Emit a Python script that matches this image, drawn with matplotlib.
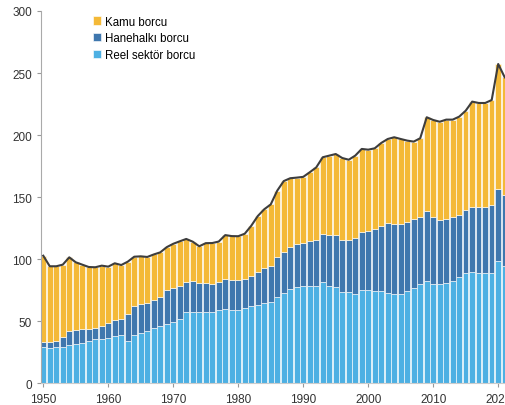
import numpy as np
import matplotlib
matplotlib.use("Agg")
import matplotlib.pyplot as plt

plt.rcParams['font.family'] = ['Liberation Sans', 'DejaVu Sans']

years = list(range(1950, 2022))

# reel sektor borcu (alt katman)
reel = [29.6, 28.8, 29.6, 29.6, 31.0, 31.6, 32.6, 34.0, 35.8, 35.8,
        36.6, 38.5, 39.1, 34.5, 39.3, 40.9, 42.5, 44.4, 46.1, 47.9,
        49.3, 51.9, 57.3, 57.8, 57.8, 57.8, 57.3, 59.2, 60.0, 59.5,
        59.2, 60.8, 62.2, 63.2, 64.8, 65.9, 70.0, 73.2, 76.1, 77.5,
        78.8, 78.2, 78.3, 81.5, 78.8, 77.4, 73.9, 73.4, 72.1, 75.3,
        75.6, 74.7, 74.7, 72.9, 72.1, 72.1, 74.7, 76.7, 80.1, 82.8,
        79.9, 79.9, 80.9, 82.3, 85.5, 88.7, 89.6, 88.7, 88.7, 89.0,
        98.4, 94.4]

# hanehalki borcu
hane = [3.6, 4.4, 4.9, 7.6, 11.0, 11.2, 11.0, 10.2, 8.9, 10.8,
        11.9, 12.9, 12.8, 21.7, 22.9, 23.4, 22.3, 23.1, 23.3, 27.1,
        27.4, 26.9, 24.7, 25.0, 22.9, 22.9, 22.8, 22.3, 24.2, 24.1,
        24.4, 23.7, 24.1, 26.4, 28.0, 29.0, 31.6, 33.0, 34.2, 34.8,
        34.7, 36.6, 37.5, 38.9, 41.0, 42.2, 41.9, 42.4, 44.8, 47.0,
        47.2, 49.7, 52.4, 56.1, 56.4, 56.4, 55.6, 55.8, 53.7, 56.4,
        54.4, 52.0, 51.6, 51.5, 50.4, 51.3, 52.3, 53.2, 53.2, 54.8,
        58.2, 57.4]

# kamu borcu
kamu = [69.7, 61.2, 59.9, 58.5, 59.6, 54.8, 52.1, 49.6, 48.9, 48.3,
        45.6, 45.4, 43.5, 41.9, 39.9, 38.1, 37.1, 36.4, 36.2, 34.8,
        35.8, 35.7, 34.4, 31.4, 29.8, 32.3, 33.0, 32.8, 35.3, 35.1,
        35.0, 36.1, 40.7, 45.2, 47.5, 49.3, 53.7, 56.8, 55.0, 53.5,
        52.9, 55.3, 58.2, 61.8, 63.7, 65.2, 65.8, 64.4, 66.6, 66.6,
        65.5, 65.0, 66.6, 67.9, 69.8, 68.4, 65.3, 62.3, 63.7, 75.2,
        77.9, 78.9, 80.0, 78.7, 79.0, 79.7, 85.1, 84.0, 84.0, 84.5,
        100.7, 94.8]

c_reel = '#4db0e3'
c_hane = '#3f77ae'
c_kamu = '#f4b937'

fig = plt.figure(figsize=(5.06, 4.06), dpi=100)
ax = fig.add_axes([0.081, 0.053, 0.919, 0.9175])

reel = np.array(reel)
hane = np.array(hane)
kamu = np.array(kamu)
edge = dict(edgecolor=(1, 1, 1, 0.7), linewidth=0.6, width=0.86)

b1 = ax.bar(years, reel, color=c_reel, **edge)
b2 = ax.bar(years, hane, bottom=reel, color=c_hane, **edge)
b3 = ax.bar(years, kamu, bottom=reel + hane, color=c_kamu, **edge)
ax.plot(years, reel + hane + kamu, color='#3d3d3d', lw=1.5, zorder=5)

ax.set_xlim(1949.65, 2021.2)
ax.set_ylim(0, 300)
ax.set_yticks(range(0, 301, 50))
ax.set_xticks(range(1950, 2021, 10))

for s in ['top', 'right']:
    ax.spines[s].set_visible(False)
ax.spines['left'].set_color('#aaaaaa')
ax.spines['bottom'].set_color('#cccccc')
ax.tick_params(colors='#999999', labelcolor='#333333', labelsize=8.5, length=3, width=0.8)

# legend in the upper left, square handles
ax.legend([b3, b2, b1], ['Kamu borcu', 'Hanehalkı borcu', 'Reel sektör borcu'],
          loc='upper left', bbox_to_anchor=(0.096, 1.006), frameon=False, fontsize=8.3,
          handlelength=0.75, handleheight=0.75, handletextpad=0.35, labelspacing=0.4,
          borderaxespad=0.2)

fig.savefig('out.png', dpi=100)
